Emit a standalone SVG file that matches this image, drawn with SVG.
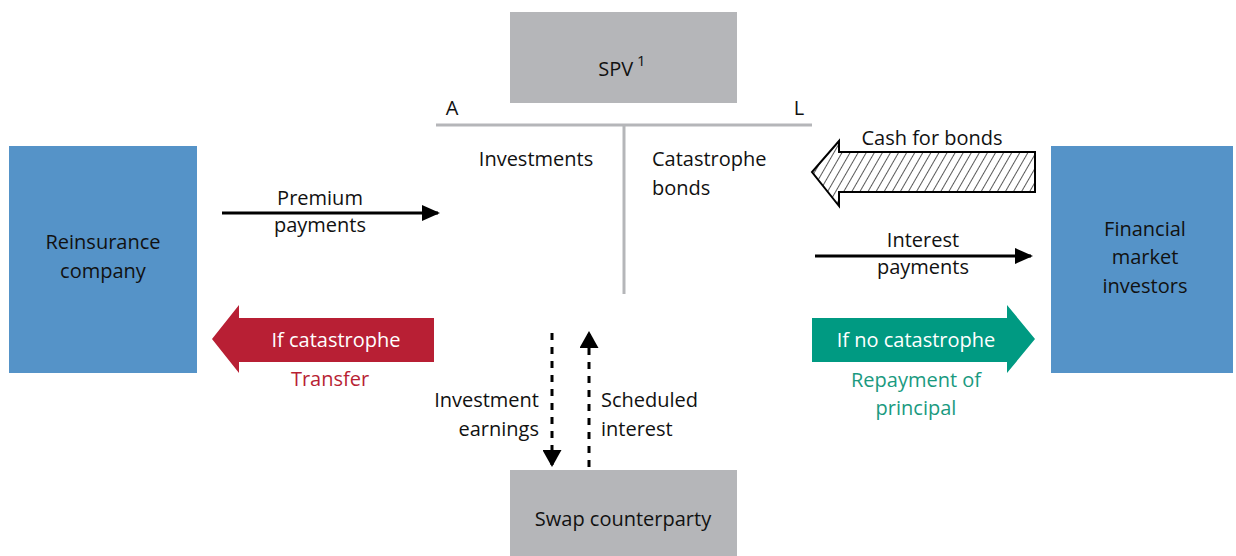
<svg xmlns="http://www.w3.org/2000/svg" width="1236" height="556" viewBox="0 0 1236 556">
<style>
text{font-family:"Open Sans","Noto Sans","DejaVu Sans",sans-serif;font-size:20px;fill:#111}
.c{text-anchor:middle}
.e{text-anchor:end}
.w{fill:#fff}
.blue{fill:#5593c8}
.grey{fill:#b5b6b9}
.line{stroke:#000;stroke-width:3;fill:none}
.dot{stroke:#000;stroke-width:3;fill:none;stroke-dasharray:7,7}
</style>
<defs>
<pattern id="hatch" patternUnits="userSpaceOnUse" width="7" height="10" patternTransform="rotate(30)">
<rect width="7" height="10" fill="#fff"/>
<line x1="0" y1="0" x2="0" y2="10" stroke="#000" stroke-width="1.3"/>
</pattern>
<marker id="ah" markerWidth="18" markerHeight="16" refX="16" refY="8" orient="auto" markerUnits="userSpaceOnUse" viewBox="0 0 18 16">
<path d="M0,0 L18,8 L0,16 Z" fill="#000"/>
</marker>
<marker id="ahs" markerWidth="17" markerHeight="19" refX="15" refY="9.5" orient="auto" markerUnits="userSpaceOnUse" viewBox="0 0 17 19">
<path d="M0,0 L17,9.5 L0,19 Z" fill="#000"/>
</marker>
</defs>

<g id="spv">
<rect x="510" y="12" width="227" height="91" class="grey"/>
<text x="622" y="76" class="c">SPV<tspan dy="-10" font-size="15"> 1</tspan></text>
</g>
<g id="balance-sheet">
<line x1="436" y1="125" x2="812" y2="125" stroke="#b5b6b9" stroke-width="3"/>
<line x1="624" y1="125" x2="624" y2="294" stroke="#b5b6b9" stroke-width="3"/>
<text x="452" y="115" class="c">A</text>
<text x="799" y="115" class="c">L</text>
<text x="536" y="166" class="c">Investments</text>
<text x="652" y="166">Catastrophe</text>
<text x="652" y="195">bonds</text>
</g>
<g id="reinsurance">
<rect x="9" y="146" width="188" height="227" class="blue"/>
<text x="103" y="249" class="c">Reinsurance</text>
<text x="103" y="278" class="c">company</text>
</g>
<g id="investors">
<rect x="1051" y="146" width="182" height="227" class="blue"/>
<text x="1145" y="236" class="c">Financial</text>
<text x="1145" y="264" class="c">market</text>
<text x="1145" y="293" class="c">investors</text>
</g>
<g id="swap">
<rect x="510" y="470" width="227" height="86" class="grey"/>
<text x="623" y="526" class="c">Swap counterparty</text>
</g>

<g id="connectors">
<line x1="222" y1="213" x2="438" y2="213" class="line" marker-end="url(#ah)"/>
<text x="320" y="205" class="c">Premium</text>
<text x="320" y="232" class="c">payments</text>

<path d="M1035,152 L839,152 L839,141 L812,172 L839,206 L839,192 L1035,192 Z" fill="url(#hatch)" stroke="#000" stroke-width="2"/>
<text x="932" y="145" class="c">Cash for bonds</text>

<line x1="815" y1="256" x2="1031" y2="256" class="line" marker-end="url(#ah)"/>
<text x="923" y="247" class="c">Interest</text>
<text x="923" y="274" class="c">payments</text>

<path d="M434,318 L239,318 L239,305 L212,339 L239,373 L239,362 L434,362 Z" fill="#b81f34"/>
<text x="336" y="347" class="c w">If catastrophe</text>
<text x="330" y="386" class="c" style="fill:#b81f34">Transfer</text>

<path d="M812,318 L1007,318 L1007,305 L1035,339 L1007,373 L1007,362 L812,362 Z" fill="#009a82"/>
<text x="916" y="347" class="c w">If no catastrophe</text>
<text x="916" y="387" class="c" style="fill:#1a9a7f">Repayment of</text>
<text x="916" y="415" class="c" style="fill:#1a9a7f">principal</text>

<line x1="552" y1="333" x2="552" y2="465" class="dot" marker-end="url(#ahs)"/>
<line x1="589" y1="467" x2="589" y2="333" class="dot" marker-end="url(#ahs)"/>
<text x="539" y="407" class="e">Investment</text>
<text x="539" y="436" class="e">earnings</text>
<text x="601" y="407">Scheduled</text>
<text x="601" y="436">interest</text>
</g>
</svg>
